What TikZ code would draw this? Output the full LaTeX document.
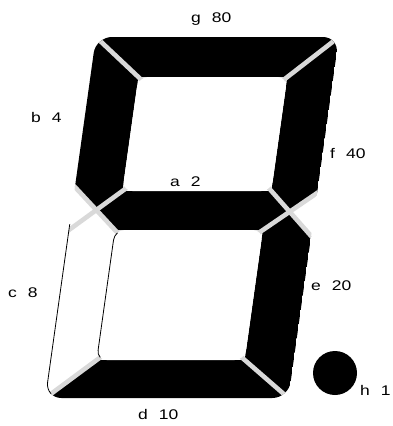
\documentclass[tikz,border=0pt]{standalone}
\usepackage{fontspec}
\setmainfont{Liberation Sans}[FakeStretch=1.25]
\usetikzlibrary{calc}
\definecolor{sepgray}{HTML}{D9D9D9}
\newcommand{\lblgap}{\hspace*{11pt}}
\tikzset{
  lbl/.style={anchor=base west, inner sep=0pt, font=\fontsize{14}{16}\selectfont},
  sepline/.style={draw=sepgray, line width=4.6pt},
  segon/.style={fill=black},
  thinout/.style={draw=black, line width=0.8pt},
  outerround/.style={rounded corners=16pt},
  innerround/.style={rounded corners=10pt}
}
\begin{document}
\begin{tikzpicture}[x=1pt,y=-1pt]
\useasboundingbox (0,0) rectangle (392,426);
\begin{scope}[x={(1pt,0pt)}, y={(-0.14pt,-1pt)}, shift={(29.12pt,0pt)}]
  % outer frame
  \coordinate (OTL) at (72,37);
  \coordinate (OTR) at (315,37);
  \coordinate (OBR) at (315,398);
  \coordinate (OBL) at (72,398);
  % notch points
  \coordinate (NL1) at (72,187);
  \coordinate (NL2) at (72,230);
  \coordinate (NR1) at (315,193);
  \coordinate (NR2) at (315,236);
  % upper window
  \coordinate (ATL) at (120,77);
  \coordinate (ATR) at (269,77);
  \coordinate (ABR) at (269,191);
  \coordinate (ABL) at (120,191);
  % lower window
  \coordinate (BTL) at (118,230);
  \coordinate (BTR) at (266,230);
  \coordinate (BBR) at (266,360);
  \coordinate (BBL) at (118,360);
  % cross centres
  \coordinate (L) at (intersection of NL1--BTL and ABL--NL2);
  \coordinate (R) at (intersection of NR1--BTR and ABR--NR2);

  \begin{scope}
    \clip[outerround] (OTL.center) -- (OTR.center) -- (OBR.center) -- (OBL.center) -- cycle;
    % lit segments
    \fill[segon] (OTL.center) -- (OTR.center) -- (ATR.center) -- (ATL.center) -- cycle;              % g
    \fill[segon] (OTR.center) -- (NR1.center) -- (R.center) -- (ABR.center) -- (ATR.center) -- cycle; % f
    \fill[segon] (OTL.center) -- (ATL.center) -- (ABL.center) -- (L.center) -- (NL1.center) -- cycle; % b
    \fill[segon] (L.center) -- (ABL.center) -- (ABR.center) -- (R.center) -- (BTR.center) -- (BTL.center) -- cycle; % a
    \fill[segon] (R.center) -- (NR2.center) -- (OBR.center) -- (BBR.center) -- (BTR.center) -- cycle; % e
    \fill[segon] (OBL.center) -- (BBL.center) -- (BBR.center) -- (OBR.center) -- cycle;              % d
    % separators
    \draw[sepline] ($(OTL)!-0.3!(ATL)$) -- ($(ATL)!-0.2!(OTL)$);
    \draw[sepline] ($(OTR)!-0.3!(ATR)$) -- ($(ATR)!-0.2!(OTR)$);
    \draw[sepline] ($(NL1)!-0.2!(BTL)$) -- ($(BTL)!-0.15!(NL1)$);
    \draw[sepline] ($(ABL)!-0.15!(NL2)$) -- ($(NL2)!-0.2!(ABL)$);
    \draw[sepline] ($(NR1)!-0.2!(BTR)$) -- ($(BTR)!-0.15!(NR1)$);
    \draw[sepline] ($(ABR)!-0.15!(NR2)$) -- ($(NR2)!-0.2!(ABR)$);
    \draw[sepline] ($(OBL)!-0.3!(BBL)$) -- ($(BBL)!-0.2!(OBL)$);
    \draw[sepline] ($(OBR)!-0.3!(BBR)$) -- ($(BBR)!-0.2!(OBR)$);
  \end{scope}
  % windows
  \fill[white, innerround] (ATL.center) -- (ATR.center) -- (ABR.center) -- (ABL.center) -- cycle;
  \fill[white, innerround] (BTL.center) -- (BTR.center) -- (BBR.center) -- (BBL.center) -- cycle;
  % outline of the unlit segment c
  \begin{scope}
    \clip (62,230) -- (L.center) -- ($(L)!1.3!(BTL)$) -- ($(BBL)!-0.2!(OBL)$) -- ($(OBL)!-0.3!(BBL)$) -- cycle;
    \draw[thinout, outerround] (OTL.center) -- (OTR.center) -- (OBR.center) -- (OBL.center) -- cycle;
    \draw[thinout, innerround] (BTL.center) -- (BTR.center) -- (BBR.center) -- (BBL.center) -- cycle;
  \end{scope}
\end{scope}
% decimal point
\fill (335,373) circle (22) node (hdot) {};
% labels
\node[lbl] (lg) at (191,22) {g\lblgap 80};
\node[lbl] (lb) at (31,122) {b\lblgap 4};
\node[lbl] (lf) at (330,158) {f\lblgap 40};
\node[lbl] (la) at (170,186) {a\lblgap 2};
\node[lbl] (lc) at (8,297) {c\lblgap 8};
\node[lbl] (le) at (311,290) {e\lblgap 20};
\node[lbl] (ld) at (138,419) {d\lblgap 10};
\node[lbl] (lh) at (360,395) {h\lblgap 1};
\end{tikzpicture}
\end{document}
